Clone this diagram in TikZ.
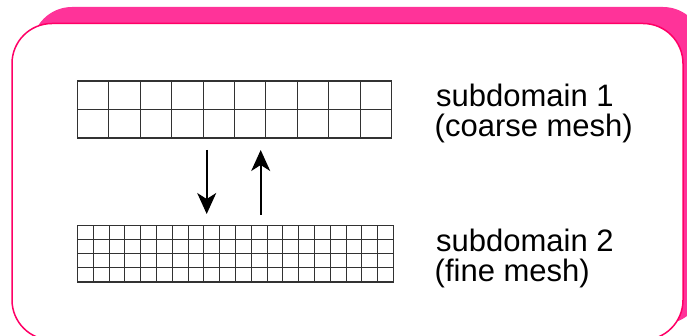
\documentclass[tikz,border=0pt]{standalone}
\usepackage{fontspec}
\setmainfont{Liberation Sans}
\usetikzlibrary{arrows.meta,calc}
\definecolor{panelpink}{RGB}{255,51,153}
\definecolor{edgepink}{RGB}{255,0,102}
\definecolor{gridgray}{RGB}{50,50,50}
\tikzset{
  panel/.style={draw=edgepink, line width=1.5pt, fill=white, rounded corners=40pt},
  shadowpanel/.style={fill=panelpink, rounded corners=40pt},
  meshbox/.style={draw=gridgray, line width=1.1pt, inner sep=0pt, outer sep=0pt},
  gridline/.style={gridgray, line width=1.1pt},
  caption/.style={anchor=base west, inner sep=0pt, font=\fontsize{31}{34}\selectfont},
  flow/.style={line width=1.6pt, -{Stealth[length=21pt, width=19pt, inset=6pt]}},
}
\begin{document}
\begin{tikzpicture}[x=1pt, y=-1pt]
\useasboundingbox (0,0) rectangle (687,336);
% backdrop panel and framed panel
\fill[shadowpanel] (32,7) rectangle (703,324);
\draw[panel] (12,23.5) rectangle (683,340);

% coarse mesh: 10 x 2 cells
\node[meshbox, minimum width=314pt, minimum height=57pt, anchor=north west] (coarse) at (77.5,81) {};
\foreach \i in {1,...,9}
  \draw[gridline] ($(coarse.north west)+(31.4*\i,0)$) -- ($(coarse.south west)+(31.4*\i,0)$);
\draw[gridline] (coarse.west) -- (coarse.east);

% fine mesh: 20 x 4 cells
\node[meshbox, minimum width=316pt, minimum height=56.5pt, anchor=north west] (fine) at (77.5,225.5) {};
\foreach \i in {1,...,19}
  \draw[gridline] ($(fine.north west)+(15.8*\i,0)$) -- ($(fine.south west)+(15.8*\i,0)$);
\foreach \j in {1,2,3}
  \draw[gridline] ($(fine.north west)+(0,14.125*\j)$) -- ($(fine.north east)+(0,14.125*\j)$);

% transfer arrows between the two meshes
\coordinate (downtop) at (206.7,150);
\coordinate (downbot) at (206.7,214);
\coordinate (uptop) at (260.7,150);
\coordinate (upbot) at (260.7,215);
\draw[flow] (downtop) -- (downbot);
\draw[flow] (upbot) -- (uptop);

% captions
\node[caption] (cap1a) at (436,106.7) {subdomain 1};
\node[caption] (cap1b) at (434.5,137) {(coarse mesh)};
\node[caption] (cap2a) at (436,251.7) {subdomain 2};
\node[caption] (cap2b) at (434.5,281.7) {(fine mesh)};
\end{tikzpicture}
\end{document}
